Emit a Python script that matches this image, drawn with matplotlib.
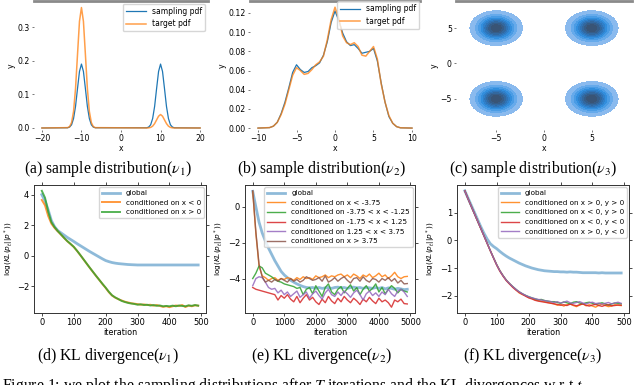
import numpy as np
import matplotlib
matplotlib.use('Agg')
import matplotlib.pyplot as plt
from matplotlib.colors import LinearSegmentedColormap

# ---- (a) bimodal target on [-20, 20]
xa = [-20, -13.5, -13, -12.5, -12, -11.5, -11, -10.5, -10, -9.5, -9, -8.5, -8, -7.5, -7, -6.5,
      6.5, 7, 7.5, 8, 8.5, 9, 9.5, 10, 10.5, 11, 11.5, 12, 12.5, 13, 13.5, 20]
sampling_a = [0, 0.0006, 0.0027, 0.0095, 0.028, 0.064, 0.117, 0.168, 0.19, 0.168, 0.117, 0.064, 0.028, 0.0095, 0.0027, 0.0006,
              0.0006, 0.0027, 0.0095, 0.028, 0.064, 0.117, 0.168, 0.19, 0.168, 0.117, 0.064, 0.028, 0.0095, 0.0027, 0.0006, 0]
target_a = [0, 0.001, 0.004, 0.016, 0.049, 0.117, 0.218, 0.317, 0.358, 0.317, 0.218, 0.117, 0.049, 0.016, 0.004, 0.001,
            0.0001, 0.0004, 0.0018, 0.0054, 0.013, 0.024, 0.035, 0.040, 0.035, 0.024, 0.013, 0.0054, 0.0018, 0.0004, 0.0001, 0]

# ---- (b) multimodal target on [-10, 10]
xb = [-10, -8.5, -8, -7.5, -7, -6.5, -6, -5.5, -5, -4.5, -4, -3.5, -3, -2.5, -2, -1.5, -1, -0.5, 0,
      0.5, 1, 1.5, 2, 2.5, 3, 3.5, 4, 4.5, 5, 5.5, 6, 6.5, 7, 7.5, 8, 8.5, 10]
target_b = [0, 0.0005, 0.002, 0.006, 0.014, 0.025, 0.040, 0.055, 0.063, 0.060, 0.056, 0.057, 0.061, 0.066, 0.069, 0.075,
            0.092, 0.113, 0.126, 0.114, 0.096, 0.089, 0.087, 0.089, 0.085, 0.076, 0.075, 0.080, 0.085, 0.072, 0.046,
            0.027, 0.013, 0.005, 0.0015, 0.0003, 0]
sampling_b = [0, 0.0005, 0.002, 0.006, 0.015, 0.027, 0.042, 0.058, 0.066, 0.061, 0.058, 0.059, 0.063, 0.065, 0.068, 0.076,
              0.090, 0.110, 0.122, 0.112, 0.099, 0.090, 0.086, 0.087, 0.083, 0.078, 0.079, 0.080, 0.083, 0.070, 0.047,
              0.027, 0.012, 0.005, 0.0015, 0.0003, 0]

# ---- (c) four blobs (centre and spread)
blob_x = [-5, 5, -5, 5]
blob_y = [5, 5, -5, -5]
blob_sx = [1.12, 1.12, 1.12, 1.12]
blob_sy = [1.0, 1.0, 1.0, 1.0]

# ---- (d) KL, nu1
it_d = list(range(0, 500, 10))
global_d = [4.0, 3.6, 3.0, 2.3, 1.9, 1.65, 1.5, 1.35, 1.2, 1.07, 0.94, 0.8, 0.67, 0.54, 0.41, 0.28, 0.16, 0.04, -0.08, -0.2,
            -0.31, -0.38, -0.44, -0.48, -0.51, -0.53, -0.55, -0.57, -0.58, -0.59, -0.6, -0.6, -0.6, -0.6, -0.6, -0.6,
            -0.6, -0.6, -0.6, -0.6, -0.6, -0.6, -0.6, -0.6, -0.6, -0.6, -0.6, -0.6, -0.6, -0.6]
left_d = [3.65, 3.3, 2.6, 2.1, 1.82, 1.6, 1.38, 1.16, 0.95, 0.77, 0.58, 0.33, 0.06, -0.22, -0.5, -0.78, -1.05, -1.32, -1.58,
          -1.85, -2.1, -2.38, -2.6, -2.74, -2.84, -2.92, -3.0, -3.05, -3.1, -3.13, -3.16, -3.2, -3.18, -3.22, -3.2, -3.26,
          -3.22, -3.28, -3.34, -3.3, -3.36, -3.3, -3.25, -3.28, -3.22, -3.35, -3.26, -3.3, -3.24, -3.26]
right_d = [4.25, 3.8, 2.9, 2.2, 1.88, 1.62, 1.4, 1.17, 0.96, 0.78, 0.59, 0.34, 0.07, -0.21, -0.49, -0.77, -1.04, -1.31, -1.57,
           -1.83, -2.08, -2.35, -2.58, -2.72, -2.83, -2.95, -3.02, -3.08, -3.12, -3.15, -3.2, -3.17, -3.22, -3.2, -3.25,
           -3.22, -3.27, -3.25, -3.3, -3.28, -3.3, -3.26, -3.3, -3.25, -3.28, -3.3, -3.24, -3.27, -3.22, -3.26]

# ---- (e) KL, nu2
it_e = list(range(0, 5000, 100))
global_e = [0.87, 0.0, -0.85, -1.45, -1.9, -2.3, -2.65, -3.0, -3.3, -3.6, -3.8, -3.95, -4.1, -4.2, -4.3, -4.38, -4.45, -4.5,
            -4.52, -4.5, -4.55, -4.5, -4.55, -4.52, -4.5, -4.55, -4.5, -4.48, -4.52, -4.5, -4.55, -4.5, -4.48, -4.52, -4.5,
            -4.55, -4.5, -4.52, -4.55, -4.5, -4.55, -4.5, -4.58, -4.52, -4.55, -4.6, -4.55, -4.58, -4.62, -4.6]
q1_e = [0.85, -1.5, -3.3, -3.85, -3.95, -4.1, -4.0, -3.95, -4.1, -4.0, -4.05, -3.95, -4.0, -4.1, -3.95, -4.05, -3.9, -4.0,
        -3.95, -4.05, -3.85, -3.95, -3.9, -3.8, -3.95, -3.85, -3.9, -3.8, -3.75, -3.9, -3.8, -3.95, -3.75, -3.85, -4.0,
        -3.8, -3.9, -3.75, -3.95, -3.85, -3.7, -3.9, -3.8, -4.0, -3.85, -3.65, -3.9, -4.0, -3.9, -3.88]
q2_e = [-4.0, -3.7, -3.3, -3.4, -3.7, -3.8, -3.9, -4.05, -4.15, -4.2, -4.3, -4.35, -4.4, -4.45, -4.55, -4.5, -4.9, -4.6,
        -4.5, -4.85, -4.4, -4.7, -5.0, -4.5, -4.3, -4.75, -4.9, -4.6, -4.45, -4.8, -4.55, -4.35, -4.7, -4.5, -4.9, -4.6,
        -4.4, -4.7, -4.55, -4.3, -4.75, -4.5, -4.85, -4.6, -4.4, -4.55, -4.8, -4.6, -4.7, -4.75]
q3_e = [-4.5, -4.6, -4.65, -4.7, -4.75, -4.8, -4.85, -4.9, -5.2, -4.95, -5.1, -4.9, -5.15, -5.3, -5.0, -5.35, -5.1, -4.9,
        -5.2, -5.05, -5.3, -5.45, -5.15, -5.35, -5.0, -5.25, -5.4, -5.1, -5.3, -5.0, -5.2, -5.35, -5.1, -5.25, -5.45,
        -5.15, -5.3, -5.05, -5.25, -5.4, -5.1, -5.3, -5.2, -5.35, -5.6, -5.2, -5.3, -5.15, -5.4, -5.42]
q4_e = [-4.4, -4.0, -3.9, -3.95, -4.2, -4.5, -4.6, -4.55, -4.8, -4.65, -4.9, -4.75, -5.0, -4.85, -4.7, -5.05, -4.9, -4.75,
        -5.1, -4.85, -4.7, -4.95, -5.15, -4.8, -4.6, -4.9, -5.0, -4.75, -4.95, -4.7, -4.85, -5.05, -4.8, -4.65, -4.9,
        -5.2, -4.85, -4.7, -4.95, -4.8, -5.0, -4.75, -4.9, -4.6, -4.85, -5.0, -4.7, -4.6, -4.75, -5.0]
q5_e = [0.9, -1.4, -3.2, -3.9, -4.2, -4.1, -4.2, -4.05, -4.15, -4.0, -4.1, -4.2, -4.0, -4.15, -4.05, -4.2, -4.1, -3.9,
        -4.0, -4.1, -4.05, -3.95, -4.15, -3.85, -4.2, -4.1, -3.95, -4.15, -4.0, -3.9, -4.1, -4.25, -4.0, -3.95, -4.15,
        -3.9, -4.1, -4.2, -4.0, -4.05, -4.2, -4.0, -4.1, -3.95, -4.15, -4.0, -4.25, -4.1, -4.3, -4.28]
labels_e = ['global', 'conditioned on x < -3.75', 'conditioned on -3.75 < x < -1.25',
            'conditioned on -1.75 < x < 1.25', 'conditioned on 1.25 < x < 3.75', 'conditioned on x > 3.75']

# ---- (f) KL, nu3
it_f = list(range(0, 500, 10))
global_f = [1.8, 1.54, 1.28, 1.02, 0.76, 0.5, 0.26, 0.05, -0.12, -0.22, -0.3, -0.4, -0.49, -0.57, -0.64, -0.7, -0.76,
            -0.82, -0.87, -0.92, -0.96, -1.0, -1.03, -1.06, -1.08, -1.1, -1.11, -1.12, -1.13, -1.13, -1.14, -1.14,
            -1.15, -1.14, -1.15, -1.15, -1.16, -1.17, -1.17, -1.17, -1.17, -1.17, -1.18, -1.17, -1.18, -1.18, -1.18,
            -1.18, -1.18, -1.18]
pp_f = [1.8, 1.52, 1.25, 0.98, 0.71, 0.44, 0.17, -0.1, -0.37, -0.63, -0.88, -1.1, -1.28, -1.44, -1.57, -1.68, -1.78,
        -1.9, -1.96, -2.0, -2.07, -2.1, -2.15, -2.18, -2.2, -2.22, -2.25, -2.27,
        -2.3, -2.35, -2.32, -2.38, -2.33, -2.3, -2.36, -2.4, -2.34, -2.3, -2.37, -2.33, -2.38, -2.42, -2.35, -2.31,
        -2.36, -2.4, -2.38, -2.33, -2.35, -2.36]
mp_f = [1.8, 1.52, 1.25, 0.98, 0.71, 0.44, 0.17, -0.1, -0.37, -0.63, -0.88, -1.1, -1.28, -1.44, -1.56, -1.67, -1.77,
        -1.86, -1.93, -1.99, -2.04, -2.08, -2.12, -2.15, -2.14, -2.18, -2.2, -2.22,
        -2.22, -2.25, -2.28, -2.23, -2.26, -2.3, -2.24, -2.22, -2.27, -2.3, -2.26, -2.24, -2.28, -2.32, -2.29, -2.26,
        -2.3, -2.35, -2.3, -2.27, -2.28, -2.3]
mm_f = [1.8, 1.51, 1.24, 0.97, 0.7, 0.43, 0.16, -0.11, -0.38, -0.64, -0.9, -1.12, -1.3, -1.46, -1.58, -1.7, -1.8,
        -1.88, -1.95, -2.02, -2.08, -2.12, -2.17, -2.2, -2.22, -2.24, -2.26, -2.28,
        -2.3, -2.32, -2.35, -2.33, -2.36, -2.31, -2.34, -2.37, -2.33, -2.3, -2.35, -2.38, -2.34, -2.32, -2.36, -2.39,
        -2.35, -2.33, -2.37, -2.36, -2.34, -2.35]
pm_f = [1.8, 1.52, 1.25, 0.98, 0.71, 0.44, 0.17, -0.1, -0.37, -0.63, -0.88, -1.1, -1.28, -1.44, -1.56, -1.67, -1.77,
        -1.86, -1.93, -1.99, -2.04, -2.08, -2.11, -2.14, -2.16, -2.18, -2.2, -2.22,
        -2.25, -2.22, -2.27, -2.24, -2.2, -2.26, -2.28, -2.25, -2.22, -2.27, -2.3, -2.26, -2.24, -2.29, -2.27, -2.31,
        -2.28, -2.25, -2.3, -2.27, -2.24, -2.28]
labels_f = ['global', 'conditioned on x > 0, y > 0', 'conditioned on x < 0, y > 0',
            'conditioned on x < 0, y < 0', 'conditioned on x > 0, y < 0']

captions = [r'(a) sample distribution($\nu_1$)', r'(b) sample distribution($\nu_2$)',
            r'(c) sample distribution($\nu_3$)', r'(d) KL divergence($\nu_1$)',
            r'(e) KL divergence($\nu_2$)', r'(f) KL divergence($\nu_3$)']

plt.rcParams['font.family'] = 'DejaVu Sans'
fig = plt.figure(figsize=(6.4, 3.85), dpi=100)
W, H = 640.0, 385.0


def add_ax(x0, x1, y0, y1):
    return fig.add_axes([x0 / W, 1 - y1 / H, (x1 - x0) / W, (y1 - y0) / H])


def top_style(ax):
    for s in ['left', 'right', 'bottom']:
        ax.spines[s].set_visible(False)
    ax.spines['top'].set_color('#8a8a8a')
    ax.spines['top'].set_linewidth(2)
    ax.tick_params(labelsize=5.6, length=1.5, width=0.5, color='#444444', pad=1.5)
    ax.set_xlabel('x', fontsize=5.6, labelpad=0.5)
    ax.set_ylabel('y', fontsize=5.6, labelpad=1)


def bottom_style(ax):
    for s in ax.spines.values():
        s.set_color('#333333')
        s.set_linewidth(0.7)
    ax.tick_params(labelsize=6, length=2, width=0.5, pad=1.5, top=True, right=True)
    ax.set_xlabel('iteration', fontsize=5.8, labelpad=0.5)
    ax.set_ylabel(r'$\log(KL(p_t||p^*))$', fontsize=5.3, labelpad=1)


# (a)
ax = add_ax(34, 208, 0.5, 130)
ax.plot(xa, sampling_a, color='#1f77b4', lw=0.9, label='sampling pdf')
ax.plot(xa, target_a, color='#ff7f0e', lw=1.1, alpha=0.75, label='target pdf')
ax.set_xlim(-22, 22)
ax.set_ylim(-0.006, 0.379)
ax.set_xticks([-20, -10, 0, 10, 20])
ax.set_yticks([0.0, 0.1, 0.2, 0.3])
top_style(ax)
ax.legend(loc='upper right', fontsize=5.5, handlelength=2.6, borderaxespad=0.4, framealpha=0.8)

# (b)
ax = add_ax(250, 420, 0.5, 130)
ax.plot(xb, sampling_b, color='#1f77b4', lw=0.9, label='sampling pdf')
ax.plot(xb, target_b, color='#ff7f0e', lw=1.1, alpha=0.75, label='target pdf')
ax.set_xlim(-11.04, 11.04)
ax.set_ylim(-0.002, 0.133)
ax.set_xticks([-10, -5, 0, 5, 10])
ax.set_yticks([0.0, 0.02, 0.04, 0.06, 0.08, 0.10, 0.12])
ax.set_yticklabels(['0.00', '0.02', '0.04', '0.06', '0.08', '0.10', '0.12'])
top_style(ax)
ax.legend(loc='upper right', fontsize=5.5, handlelength=2.6, borderaxespad=0.1, framealpha=0.8)

# (c)
ax = add_ax(456, 632, 0.5, 130)
gx = np.linspace(-9.2, 9.2, 300)
gy = np.linspace(-9.4, 8.9, 300)
GX, GY = np.meshgrid(gx, gy)
Z = np.zeros_like(GX)
for bx, by, sx, sy in zip(blob_x, blob_y, blob_sx, blob_sy):
    Z += np.exp(-0.5 * (((GX - bx) / sx) ** 2 + ((GY - by) / sy) ** 2))
blues = LinearSegmentedColormap.from_list('kde', ['#9cc2ef', '#5ba5ea', '#2f8ddc', '#2f74b8', '#35608e', '#3a506b'])
ax.contourf(GX, GY, Z, levels=Z.max() * np.linspace(0.05, 1.0, 10), cmap=blues)
ax.set_xlim(-9.2, 9.2)
ax.set_ylim(-9.4, 8.9)
ax.set_xticks([-5, 0, 5])
ax.set_yticks([-5, 0, 5])
top_style(ax)

# (d)
ax = add_ax(34, 206, 185, 313)
ax.plot(it_d, global_d, color='#1f77b4', lw=2, alpha=0.5, label='global')
ax.plot(it_d, left_d, color='#ff7f0e', lw=1.4, alpha=0.8, label='conditioned on x < 0')
ax.plot(it_d, right_d, color='#2ca02c', lw=1.4, alpha=0.8, label='conditioned on x > 0')
ax.set_xticks([0, 100, 200, 300, 400, 500])
ax.set_yticks([-2, 0, 2, 4])
bottom_style(ax)
ax.legend(loc='upper right', fontsize=5.2, handlelength=2.5, borderaxespad=0.3, labelspacing=0.5)

# (e)
ax = add_ax(245, 415, 185, 313)
series_e = [global_e, q1_e, q2_e, q3_e, q4_e, q5_e]
colors_e = ['#1f77b4', '#ff7f0e', '#2ca02c', '#d62728', '#9467bd', '#8c564b']
for k, (ys, c, lab) in enumerate(zip(series_e, colors_e, labels_e)):
    if k == 0:
        ax.plot(it_e, ys, color=c, lw=2, alpha=0.5, label=lab)
    else:
        ax.plot(it_e, ys, color=c, lw=1.0, alpha=0.85, label=lab)
ax.set_xticks([0, 1000, 2000, 3000, 4000, 5000])
ax.set_yticks([-4, -2, 0])
bottom_style(ax)
ax.legend(loc='upper right', fontsize=5.2, handlelength=2.5, borderaxespad=0.3, labelspacing=0.5)

# (f)
ax = add_ax(457, 629, 185, 313)
series_f = [global_f, pp_f, mp_f, mm_f, pm_f]
colors_f = ['#1f77b4', '#ff7f0e', '#2ca02c', '#d62728', '#9467bd']
for k, (ys, c, lab) in enumerate(zip(series_f, colors_f, labels_f)):
    if k == 0:
        ax.plot(it_f, ys, color=c, lw=2, alpha=0.5, label=lab)
    else:
        ax.plot(it_f, ys, color=c, lw=1.0, alpha=0.85, label=lab)
ax.set_xticks([0, 100, 200, 300, 400, 500])
ax.set_yticks([-2, -1, 0, 1])
bottom_style(ax)
ax.legend(loc='upper right', fontsize=5.2, handlelength=2.5, borderaxespad=0.3, labelspacing=0.5)

# captions
cap_x = [108, 321, 533, 108, 321, 533]
cap_y = [169, 169, 169, 356, 356, 356]
for cx, cy, txt in zip(cap_x, cap_y, captions):
    fig.text(cx / W, 1 - cy / H, txt, ha='center', va='center', fontsize=11.3,
             family='Liberation Serif', math_fontfamily='stix')
# the page caption is cut by the bottom edge, as in the source crop
fig.text(0.003, 1 - 376 / H, r'Figure 1: we plot the sampling distributions after $T$ iterations and the KL divergences w.r.t $t$',
         ha='left', va='top', fontsize=11.3, family='Liberation Serif', math_fontfamily='stix')

fig.savefig('out.png', dpi=100)
